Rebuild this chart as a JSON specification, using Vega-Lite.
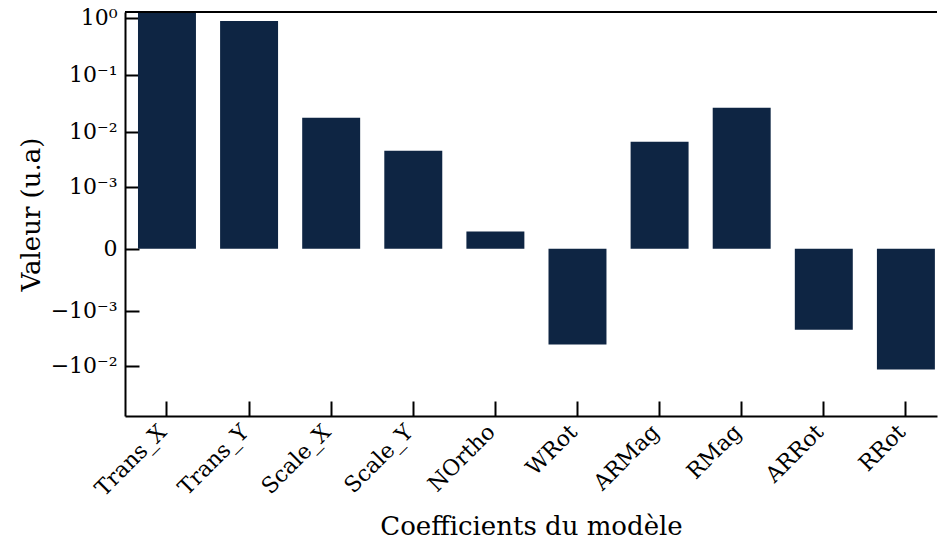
{
  "$schema": "https://vega.github.io/schema/vega-lite/v6.json",
  "width": 812,
  "height": 404,
  "autosize": {"type": "none"},
  "padding": {"left": 125, "top": 12, "right": 1, "bottom": 124},
  "background": "white",
  "config": {
    "view": {"stroke": null},
    "font": "DejaVu Serif",
    "axis": {
      "labelFont": "DejaVu Serif",
      "titleFont": "DejaVu Serif",
      "labelColor": "black",
      "titleColor": "black",
      "labelFontSize": 22,
      "titleFontSize": 26,
      "titleFontWeight": "normal",
      "domainColor": "black",
      "domainWidth": 2,
      "tickColor": "black",
      "tickWidth": 2,
      "grid": false,
      "zindex": 1
    }
  },
  "data": {
    "values": [
      {"coef": "Trans_X", "valeur": 1.4},
      {"coef": "Trans_Y", "valeur": 0.871},
      {"coef": "Scale_X", "valeur": 0.0175},
      {"coef": "Scale_Y", "valeur": 0.00456},
      {"coef": "NOrtho", "valeur": 0.00009},
      {"coef": "WRot", "valeur": -0.0042},
      {"coef": "ARMag", "valeur": 0.0066},
      {"coef": "RMag", "valeur": 0.0262},
      {"coef": "ARRot", "valeur": -0.00226},
      {"coef": "RRot", "valeur": -0.0116}
    ]
  },
  "resolve": {"axis": {"x": "independent", "y": "independent"}},
  "layer": [
    {
      "mark": {"type": "bar", "color": "#0e2543", "clip": true},
      "encoding": {
        "x": {
          "field": "coef",
          "type": "nominal",
          "sort": null,
          "scale": {"paddingInner": 0.294, "paddingOuter": 0.092, "align": 0.86},
          "axis": {
            "orient": "bottom",
            "title": "Coefficients du modèle",
            "labelAngle": -45,
            "labelAlign": "right",
            "labelBaseline": "middle",
            "ticks": false,
            "labelPadding": 12,
            "labelOffset": -4,
            "titlePadding": 14
          }
        },
        "y": {
          "field": "valeur",
          "type": "quantitative",
          "scale": {"type": "symlog", "constant": 0.00009, "domain": [-0.0762, 1.251], "nice": false, "zero": false},
          "axis": {
            "orient": "left",
            "title": "Valeur (u.a)",
            "values": [-0.01, -0.001, 0, 0.001, 0.01, 0.1, 1],
            "labelExpr": "datum.value == 1 ? '10⁰' : datum.value == 0.1 ? '10⁻¹' : datum.value == 0.01 ? '10⁻²' : datum.value == 0.001 ? '10⁻³' : datum.value == 0 ? '0' : datum.value == -0.001 ? '−10⁻³' : '−10⁻²'",
            "ticks": false,
            "labelPadding": 8,
            "titlePadding": 6
          }
        },
        "y2": {"datum": 0}
      }
    },
    {
      "mark": {"type": "bar", "opacity": 0},
      "encoding": {
        "x": {
          "field": "coef",
          "type": "nominal",
          "sort": null,
          "axis": {"orient": "bottom", "offset": -15, "tickSize": 15, "domain": false, "labels": false, "title": null}
        },
        "y": {
          "field": "valeur",
          "type": "quantitative",
          "scale": {"type": "symlog", "constant": 0.00009, "domain": [-0.0762, 1.251], "nice": false, "zero": false},
          "axis": {"orient": "right", "offset": -812, "tickSize": 14, "domain": false, "labels": false, "title": null, "values": [-0.01, -0.001, 0, 0.001, 0.01, 0.1, 1]}
        },
        "y2": {"datum": 0}
      }
    },
    {
      "mark": {"type": "rule", "color": "black", "strokeWidth": 2},
      "encoding": {"y": {"datum": 1.251, "scale": {"type": "symlog", "constant": 0.00009, "domain": [-0.0762, 1.251], "nice": false, "zero": false}, "axis": null}}
    }
  ]
}
